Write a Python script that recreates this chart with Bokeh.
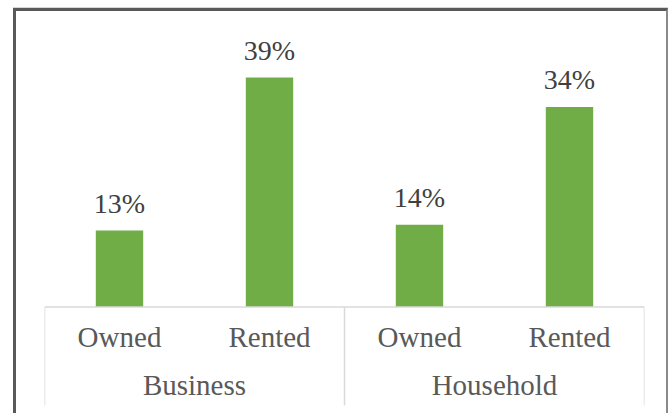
from bokeh.plotting import figure
from bokeh.models import FactorRange, Range1d
from bokeh.core.properties import value
from bokeh.embed import file_html
from bokeh.resources import INLINE

# ---- data ----
groups = ["Business", "Household"]
tenure = ["Owned", "Rented"]
shares = [13, 39, 14, 34]
share_labels = ["13%", "39%", "14%", "34%"]

factors = [(g, t) for g in groups for t in tenure]

BAR = "#70AD47"
RULE = "#D9D9D9"
FONT = "Liberation Serif"
SEP_BOTTOM = -16.7

p = figure(
    width=655, height=405,
    output_backend="svg", toolbar_location=None,
    x_range=FactorRange(*factors, factor_padding=0, group_padding=0, range_padding=0),
    y_range=Range1d(-18.58, 50.2),
    x_axis_location=None, y_axis_location=None,
    min_border=0, min_border_left=28, min_border_right=27,
    min_border_top=0, min_border_bottom=0,
    styles={
        "transform": "translate(13px, 8px)",
        "border-left": "3px solid #595959",
        "border-top": "3px solid #595959",
        "border-right": "2px solid #8a8a8a",
        "box-shadow": "0 -1px 0 #d6d6d6",
    },
)
p.grid.visible = False
p.outline_line_color = None

# bars
p.vbar(x=factors, top=shares, bottom=0, width=0.316, fill_color=BAR, line_color=None)

# data labels
p.text(x=factors, y=shares, text=share_labels, text_align="center",
       text_baseline="alphabetic", y_offset=-27,
       text_font=value(FONT), text_font_size="28px", text_color="#404040")

# category axis drawn manually: baseline + separators
left_edge = (factors[0][0], factors[0][1], -0.5)
right_edge = (factors[-1][0], factors[-1][1], 0.5)
mid_edge = (factors[2][0], factors[2][1], -0.5)

p.segment(x0=[left_edge], y0=[0], x1=[right_edge], y1=[0],
          line_color=RULE, line_width=1.5)
p.segment(x0=[left_edge, mid_edge, right_edge], y0=[0, 0, 0],
          x1=[left_edge, mid_edge, right_edge], y1=[SEP_BOTTOM] * 3,
          line_color=RULE, line_width=1.5)

# sub-category labels
p.text(x=factors, y=[0] * len(factors), text=[f[1] for f in factors],
       text_align="center", text_baseline="alphabetic", y_offset=30,
       text_font=value(FONT), text_font_size="29px", text_color="#595959")

# group labels
p.text(x=groups, y=[0] * len(groups), text=groups,
       text_align="center", text_baseline="alphabetic", y_offset=78,
       text_font=value(FONT), text_font_size="29px", text_color="#595959")

open("out.html", "w").write(file_html(p, INLINE))
